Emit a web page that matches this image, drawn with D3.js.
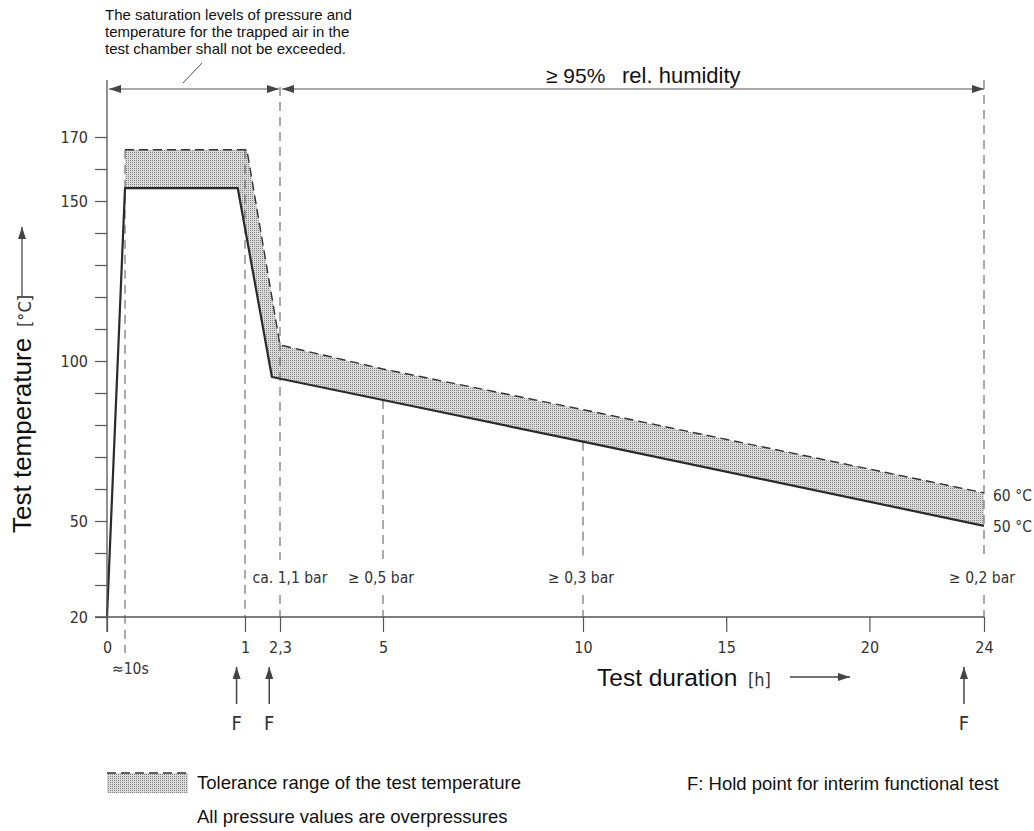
<!DOCTYPE html>
<html>
<head>
<meta charset="utf-8">
<script src="https://cdn.jsdelivr.net/npm/d3@7"></script>
<style>
  body { margin: 0; background: #fff; }
  svg { display: block; }
  .arial { font-family: "Liberation Sans", Arial, sans-serif; fill: #111; }
  .narrow { font-family: "Liberation Sans Narrow", "DejaVu Sans Condensed", sans-serif; font-stretch: condensed; fill: #333; }
</style>
</head>
<body>
<svg id="chart" width="1034" height="831"></svg>
<script>
// time axis is not to scale: break points in hours
const xBreaks = [0, 10 / 3600, 1, 2.3, 5, 10, 24];
const xTickValues = [0, 1, 2.3, 5, 10, 15, 20, 24];
const xTickLabels = ['0', '1', '2,3', '5', '10', '15', '20', '24'];
const yTickValues = d3.range(20, 171, 10);
const yLabelled = [20, 50, 100, 150, 170];

// nominal test temperature (solid) and upper tolerance (dashed)
const nominalHours = [0, 10 / 3600, 0.94, 2.0, 5, 10, 24];
const nominalTemps = [20, 154, 154, 95, 87.8, 74.8, 48.5];
const upperHours = [10 / 3600, 1.07, 2.3, 5, 10, 24];
const upperTemps = [166, 166, 105, 97.5, 84.8, 58.8];

const pressureHours = [2.3, 5, 10, 24];
const pressureLabels = ['ca. 1,1 bar', '≥ 0,5 bar', '≥ 0,3 bar', '≥ 0,2 bar'];
const holdHours = [0.93, 1.9, 23.3];

const svg = d3.select('#chart');
const x = d3.scaleLinear().domain(xBreaks).range([107, 125, 245, 280, 383, 583, 984]);
const y = d3.scaleLinear().domain([20, 170]).range([617, 137]);

const defs = svg.append('defs');
const pat = defs.append('pattern').attr('id', 'dots')
  .attr('width', 2).attr('height', 2).attr('patternUnits', 'userSpaceOnUse');
pat.append('rect').attr('width', 2).attr('height', 2).attr('fill', '#dadada');
pat.append('rect').attr('width', 1).attr('height', 1).attr('fill', '#858585');

function marker(id, orient) {
  defs.append('marker').attr('id', id)
    .attr('viewBox', '0 0 12 8').attr('refX', 12).attr('refY', 4)
    .attr('markerWidth', 12).attr('markerHeight', 8)
    .attr('markerUnits', 'userSpaceOnUse').attr('orient', orient)
    .append('path').attr('d', 'M0,0L12,4L0,8Z').attr('fill', '#444');
}
marker('arrow', 'auto');
marker('arrowStart', 'auto-start-reverse');

const nominal = nominalHours.map((h, i) => [h, nominalTemps[i]]);
const upper = upperHours.map((h, i) => [h, upperTemps[i]]);
const line = d3.line().x((d) => x(d[0])).y((d) => y(d[1]));

// tolerance band
svg.append('path')
  .attr('d', line(upper.concat(nominal.slice(1).reverse())) + 'Z')
  .attr('fill', 'url(#dots)');

// vertical dashed guides
const dashStyle = (sel) => sel.attr('stroke', '#555').attr('stroke-width', 1).attr('stroke-dasharray', '9,6').attr('fill', 'none');
const guides = [
  [x(xBreaks[1]), y(166), 653],
  [x(1), y(166), 617],
  [x(2.3), 87, 560], [x(2.3), 595, 617],
  [x(5), y(87.8), 560], [x(5), 595, 617],
  [x(10), y(74.8), 560], [x(10), 595, 617],
  [x(24), 80, 560], [x(24), 595, 617]
];
guides.forEach(([gx, y1, y2]) => {
  svg.append('line').attr('x1', gx).attr('x2', gx).attr('y1', y1).attr('y2', y2).call(dashStyle);
});

svg.append('path').attr('d', line(upper))
  .attr('fill', 'none').attr('stroke', '#333').attr('stroke-width', 1.4).attr('stroke-dasharray', '9,5');
svg.append('path').attr('d', line(nominal))
  .attr('fill', 'none').attr('stroke', '#2a2a2a').attr('stroke-width', 2.2).attr('stroke-linejoin', 'round');

// axes
const yAxis = svg.append('g').attr('transform', 'translate(107,0)')
  .call(d3.axisLeft(y).tickValues(yTickValues).tickSize(12).tickPadding(7)
    .tickFormat((d) => (yLabelled.includes(d) ? d : '')));
yAxis.select('.domain').remove();
yAxis.selectAll('line').attr('stroke', '#555').attr('stroke-width', 1.2);
yAxis.selectAll('text').attr('class', 'narrow').attr('font-size', 16).attr('font-family', null);

const xAxis = svg.append('g').attr('transform', 'translate(0,617)')
  .call(d3.axisBottom(x).tickValues(xTickValues).tickSize(15)
    .tickFormat((d, i) => xTickLabels[i]));
xAxis.select('.domain').remove();
xAxis.selectAll('line').attr('stroke', '#555').attr('stroke-width', 1.2);
xAxis.selectAll('text').attr('class', 'narrow').attr('font-size', 16).attr('font-family', null)
  .attr('y', 36).attr('dy', null);

svg.append('line').attr('x1', 95).attr('x2', x(24)).attr('y1', 617).attr('y2', 617)
  .attr('stroke', '#555').attr('stroke-width', 1.3);
svg.append('line').attr('x1', 107).attr('x2', 107).attr('y1', 80).attr('y2', 632)
  .attr('stroke', '#555').attr('stroke-width', 1.3);

// top brackets
svg.append('line').attr('x1', 109).attr('x2', x(2.3) - 1).attr('y1', 89).attr('y2', 89)
  .attr('stroke', '#555').attr('stroke-width', 1.2)
  .attr('marker-start', 'url(#arrowStart)').attr('marker-end', 'url(#arrow)');
svg.append('line').attr('x1', x(2.3) + 2).attr('x2', x(24)).attr('y1', 89).attr('y2', 89)
  .attr('stroke', '#555').attr('stroke-width', 1.2)
  .attr('marker-start', 'url(#arrowStart)').attr('marker-end', 'url(#arrow)');
svg.append('line').attr('x1', 183).attr('y1', 83).attr('x2', 202).attr('y2', 63)
  .attr('stroke', '#555').attr('stroke-width', 1);

const note = ['The saturation levels of pressure and', 'temperature for the trapped air in the', 'test chamber shall not be exceeded.'];
svg.append('text').attr('class', 'arial').attr('font-size', 15)
  .selectAll('tspan').data(note).join('tspan')
  .attr('x', 105).attr('y', (d, i) => 20 + i * 17).text((d) => d);

svg.append('text').attr('class', 'arial').attr('x', 546).attr('y', 83).attr('font-size', 21).text('≥ 95%');
svg.append('text').attr('class', 'arial').attr('x', 622).attr('y', 83).attr('font-size', 22).text('rel. humidity');

// pressure labels
svg.selectAll('.press').data(pressureHours).join('text')
  .attr('class', 'narrow').attr('font-size', 15.5).attr('text-anchor', 'middle')
  .attr('x', (d, i) => x(d) + (i === 0 ? 10 : -2)).attr('y', 583)
  .text((d, i) => pressureLabels[i]);

svg.append('text').attr('class', 'narrow').attr('font-size', 15.5)
  .attr('x', x(24) + 9).attr('y', y(upperTemps[5]) + 8).text('60 °C');
svg.append('text').attr('class', 'narrow').attr('font-size', 15.5)
  .attr('x', x(24) + 9).attr('y', y(nominalTemps[6]) + 6).text('50 °C');

svg.append('text').attr('class', 'narrow').attr('font-size', 15.5)
  .attr('x', 112).attr('y', 674).text('≈10s');

// hold points
holdHours.forEach((h) => {
  const hx = x(h);
  svg.append('line').attr('x1', hx).attr('x2', hx).attr('y1', 704).attr('y2', 667)
    .attr('stroke', '#444').attr('stroke-width', 1.5).attr('marker-end', 'url(#arrow)');
  svg.append('text').attr('class', 'narrow').attr('font-size', 20).attr('text-anchor', 'middle')
    .attr('x', hx).attr('y', 730).text('F');
});

// axis titles
svg.append('text').attr('class', 'arial').attr('font-size', 24.5).attr('x', 597).attr('y', 686).text('Test duration');
svg.append('text').attr('class', 'narrow').attr('font-size', 18).attr('x', 748).attr('y', 686).text('[h]');
svg.append('line').attr('x1', 790).attr('x2', 850).attr('y1', 677).attr('y2', 677)
  .attr('stroke', '#444').attr('stroke-width', 1.3).attr('marker-end', 'url(#arrow)');

const yTitle = svg.append('g').attr('transform', 'translate(31,533) rotate(-90)');
yTitle.append('text').attr('class', 'arial').attr('font-size', 26).attr('x', 0).attr('y', 0).text('Test temperature');
yTitle.append('text').attr('class', 'narrow').attr('font-size', 18).attr('x', 206).attr('y', 0).text('[°C]');
yTitle.append('line').attr('x1', 236).attr('x2', 306).attr('y1', -9).attr('y2', -9)
  .attr('stroke', '#444').attr('stroke-width', 1.3).attr('marker-end', 'url(#arrow)');

// legend
svg.append('rect').attr('x', 107).attr('y', 773).attr('width', 81).attr('height', 20).attr('fill', 'url(#dots)');
svg.append('line').attr('x1', 107).attr('x2', 188).attr('y1', 773).attr('y2', 773)
  .attr('stroke', '#333').attr('stroke-width', 1.4).attr('stroke-dasharray', '9,5');
svg.append('text').attr('class', 'arial').attr('font-size', 18.5).attr('x', 197).attr('y', 789).text('Tolerance range of the test temperature');
svg.append('text').attr('class', 'arial').attr('font-size', 18.5).attr('x', 197).attr('y', 823).text('All pressure values are overpressures');
svg.append('text').attr('class', 'arial').attr('font-size', 18.5).attr('x', 687).attr('y', 790).text('F: Hold point for interim functional test');
</script>
</body>
</html>
